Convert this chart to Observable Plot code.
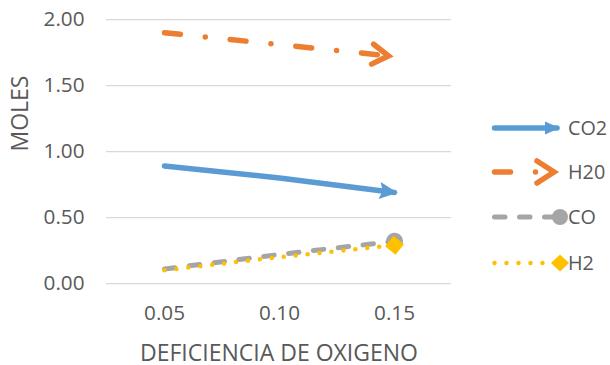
<!DOCTYPE html>
<html>
<head>
<meta charset="utf-8">
<script src="https://cdn.jsdelivr.net/npm/d3@7"></script>
<script src="https://cdn.jsdelivr.net/npm/@observablehq/plot@0.6"></script>
<style>
  body { margin: 0; background: #fff; }
  #chart { position: relative; width: 610px; height: 365px; font-family: "Open Sans", sans-serif; }
  #chart svg.legend { position: absolute; left: 0; top: 0; pointer-events: none; }
</style>
</head>
<body>
<div id="chart"></div>
<script>
// Deficiencia de oxígeno (categorías del eje X)
const deficiencia = ["0.05", "0.10", "0.15"];
// Moles de cada producto
const co2 = [0.89, 0.80, 0.69];
const h2o = [1.90, 1.81, 1.72];
const co  = [0.11, 0.22, 0.32];
const h2  = [0.10, 0.20, 0.29];
const seriesNames = ["CO2", "H20", "CO", "H2"];
const yTicks = [0, 0.5, 1, 1.5, 2];
const yTitle = "MOLES";
const xTitle = "DEFICIENCIA DE OXIGENO";

const colors = {CO2: "#5B9BD5", H20: "#ED7D31", CO: "#A5A5A5", H2: "#FFC000"};
const textColor = "#595959";
const tickFontSize = 20.7;
const titleFontSize = 23;
const legendFontSize = 19.8;

// ---- end-of-line markers (user-space units, reference point = path end) ----
function baseMarker(x0, y0, w, h) {
  return d3.create("svg:marker")
    .attr("markerUnits", "userSpaceOnUse")
    .attr("orient", "auto")
    .attr("viewBox", `${x0} ${y0} ${w} ${h}`)
    .attr("markerWidth", w)
    .attr("markerHeight", h)
    .attr("refX", 0)
    .attr("refY", 0)
    .attr("overflow", "visible");
}
function filledArrow(len, half, notch, over) {
  return (color) => {
    const m = baseMarker(over - len - 1, -half - 1, len + 2, 2 * half + 2);
    m.append("path")
      .attr("d", `M${over},0L${over - len},${-half}L${over - len + notch},0L${over - len},${half}Z`)
      .attr("fill", color).attr("stroke", "none").attr("stroke-dasharray", "none");
    return m.node();
  };
}
function openArrow(back, half, joint, sw) {
  return (color) => {
    const m = baseMarker(-back - sw, -half - sw, back + 2 * sw, 2 * half + 2 * sw);
    m.append("path")
      .attr("d", `M${-back},${-half}L${-joint},0L${-back},${half}`)
      .attr("fill", "none").attr("stroke", color).attr("stroke-width", sw)
      .attr("stroke-linecap", "round").attr("stroke-linejoin", "miter")
      .attr("stroke-dasharray", "none");
    return m.node();
  };
}
function circleEnd(r) {
  return (color) => {
    const m = baseMarker(-r - 1, -r - 1, 2 * r + 2, 2 * r + 2);
    m.append("circle").attr("r", r)
      .attr("fill", color).attr("stroke", "none").attr("stroke-dasharray", "none");
    return m.node();
  };
}
function diamondEnd(hw, hh) {
  return (color) => {
    const m = baseMarker(-hw - 1, -hh - 1, 2 * hw + 2, 2 * hh + 2);
    m.append("path").attr("d", `M${-hw},0L0,${-hh}L${hw},0L0,${hh}Z`)
      .attr("fill", color).attr("stroke", "none").attr("stroke-dasharray", "none");
    return m.node();
  };
}

const styles = {
  CO2: {values: co2, strokeWidth: 5.5, dash: null, marker: filledArrow(18, 8.5, 3, 3)},
  H20: {values: h2o, strokeWidth: 5.5, dash: "16,25,0,25", marker: openArrow(22, 10, 6, 5.5)},
  CO:  {values: co,  strokeWidth: 5,   dash: "10.5,14.5", marker: circleEnd(8.5)},
  H2:  {values: h2,  strokeWidth: 4.5, dash: "0,12", marker: diamondEnd(9.5, 9.5)}
};

const lines = seriesNames.map((name) => {
  const s = styles[name];
  return Plot.line(deficiencia, {
    x: (d) => d,
    y: (d, i) => s.values[i],
    stroke: colors[name],
    strokeWidth: s.strokeWidth,
    strokeDasharray: s.dash ?? undefined,
    strokeLinecap: "round",
    markerEnd: s.marker
  });
});

const plot = Plot.plot({
  width: 610,
  height: 365,
  marginLeft: 106,
  marginRight: 159,
  marginTop: 19,
  marginBottom: 82,
  style: {fontFamily: "'Open Sans', sans-serif", fontSize: `${tickFontSize}px`, color: textColor, background: "white", overflow: "visible"},
  x: {type: "point", domain: deficiencia, padding: 0.5, label: null},
  y: {domain: [0, 2], label: null},
  marks: [
    Plot.ruleY(yTicks, {stroke: "#D9D9D9", strokeWidth: 1.25}),
    Plot.axisY(yTicks, {tickSize: 0, tickPadding: 22, tickFormat: (d) => d.toFixed(2), label: null, fill: textColor, fontSize: tickFontSize}),
    Plot.axisX({tickSize: 0, tickPadding: 22, label: null, fill: textColor, fontSize: tickFontSize}),
    Plot.text([yTitle], {frameAnchor: "left", rotate: -90, dx: -86, fill: textColor, fontSize: titleFontSize}),
    Plot.text([xTitle], {frameAnchor: "bottom", dy: 70, lineAnchor: "middle", fill: textColor, fontSize: titleFontSize}),
    ...lines
  ]
});
document.getElementById("chart").append(plot);

// ---- legend on the right ----
const legendMarkers = {
  CO2: filledArrow(15, 6.5, 0, 3),
  H20: openArrow(23, 11, 6, 5.5),
  CO: circleEnd(8),
  H2: diamondEnd(9, 8.5)
};
const legend = d3.select("#chart").append("svg")
  .attr("class", "legend")
  .attr("width", 610).attr("height", 365);
const defs = legend.append("defs");
const rowY = [128, 172, 217, 263];
seriesNames.forEach((name, i) => {
  const s = styles[name];
  const node = legendMarkers[name](colors[name]);
  node.setAttribute("id", `lg-${name}`);
  defs.node().append(node);
  const g = legend.append("g").attr("transform", `translate(0,${rowY[i]})`);
  g.append("path")
    .attr("d", `M494.5,0L${name === "CO2" ? 557 : 560},0`)
    .attr("fill", "none")
    .attr("stroke", colors[name])
    .attr("stroke-width", s.strokeWidth)
    .attr("stroke-linecap", "round")
    .attr("stroke-dasharray", s.dash)
    .attr("marker-end", `url(#lg-${name})`);
  g.append("text")
    .attr("x", 568)
    .attr("dy", "0.35em")
    .attr("fill", textColor)
    .attr("font-family", "'Open Sans', sans-serif")
    .attr("font-size", legendFontSize)
    .text(name);
});
</script>
</body>
</html>
